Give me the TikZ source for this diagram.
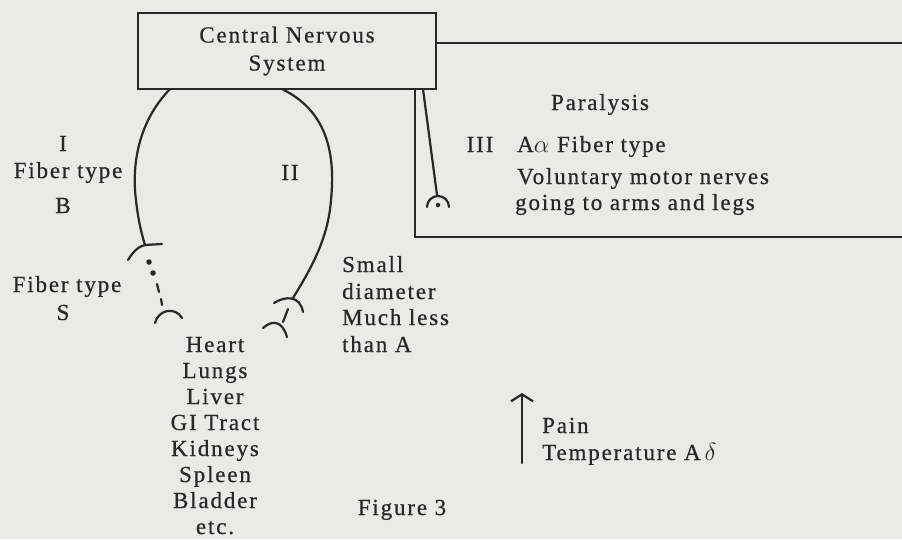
\documentclass[tikz,border=0pt]{standalone}
\usepackage{fontspec}
\setmainfont{Liberation Serif}[LetterSpace=8,FakeBold=0.6]
\usepackage{tikz}
\usetikzlibrary{arrows.meta}

\definecolor{paper}{RGB}{234,234,232}
\definecolor{ink}{RGB}{40,40,40}

\begin{document}
\begin{tikzpicture}[
  x=1pt, y=-1pt,
  lbl/.style={font=\fontsize{23}{27}\selectfont, text=ink, inner sep=0pt, anchor=base},
  lblw/.style={lbl, anchor=base west},
  nerve/.style={draw=ink, line width=2.2pt, line cap=round},
  cnsbox/.style={draw=ink, line width=2.2pt, fill=paper, minimum width=298pt,
    minimum height=76pt, inner sep=0pt, outer sep=0pt, align=center,
    font=\fontsize{23}{28}\selectfont, text=ink},
  bouton/.style={fill=ink, circle, inner sep=0pt, minimum size=5.5pt}
]
% paper and size
\fill[paper] (0,0) rectangle (902,539);
\useasboundingbox (0,0) rectangle (902,539);

% frame on the right (its corner sits behind the CNS box)
\coordinate (frTR) at (902,43);
\coordinate (frBR) at (902,237);
\draw[nerve] (frTR) -| (415,237) -- (frBR);

\node[cnsbox] (cns) at (287,51) {Central Nervous\\System};

% nerve I
\coordinate (endI) at (145,245);
\draw[nerve] ([xshift=32pt]cns.south west) .. controls (142,118) and (133,155) .. (135,190)
  .. controls (137,215) and (141,232) .. (endI);
\draw[nerve] (128,260) .. controls (134,250) and (140,246) .. (endI) -- (162,244);
\node[bouton] (dotA) at (149,262) {};
\node[bouton] (dotB) at (153,273) {};
\draw[nerve] (157,284) -- (159,292);
\draw[nerve] (161,299) -- (162,305);
\draw[nerve] (155,323) .. controls (158,310) and (175,306) .. (182,318);

% nerve II
\coordinate (endII) at (293,298);
\draw[nerve] ([xshift=144pt]cns.south west) .. controls (325,110) and (336,150) .. (331,200)
  .. controls (328,240) and (310,270) .. (endII);
\draw[nerve] (274,303) .. controls (285,296) and (300,295) .. (303,312);
\draw[nerve] (288,309) -- (283,322);
\draw[nerve] (263,328) .. controls (272,320) and (282,320) .. (287,337);

% nerve III
\coordinate (endIII) at (437,195);
\draw[nerve] ([xshift=-13pt]cns.south east) -- (endIII);
\draw[nerve] (427,207) arc[start angle=180, end angle=360, radius=11];
\node[bouton, minimum size=4.5pt] (dotC) at (438,205) {};

% labels
\node[lbl] (fibI) at (63,151) {I};
\node[lbl] (typeB) at (68,178) {Fiber type};
\node[lbl] (fibB) at (63,213) {B};
\node[lbl] (typeS) at (67,292) {Fiber type};
\node[lbl] (fibS) at (63,320) {S};
\node[lbl] (fibII) at (290,180) {II};

\node[lbl] (para) at (600,110) {Paralysis};
\node[lbl] (fibIII) at (480,152) {III};
\node[lblw] (alpha) at (517,152) {A$\alpha$\ Fiber type};
\node[lblw] (motor) at (517,184) {Voluntary motor nerves};
\node[lblw] (limbs) at (515,210) {going to arms and legs};

\node[lblw] (small) at (342,272) {Small};
\node[lblw] (diam) at (342,299) {diameter};
\node[lblw] (much) at (342,325) {Much less};
\node[lblw] (thanA) at (342,352) {than A};

\foreach \organ [count=\i] in {Heart,Lungs,Liver,GI Tract,Kidneys,Spleen,Bladder,etc.}
  \node[lbl] (organ\i) at (215,{352+26*(\i-1)}) {\organ};

\node[lbl] (fig) at (402,515) {Figure 3};

% pain arrow
\coordinate (painTail) at (522,463);
\coordinate (painHead) at (522,393);
\draw[nerve, -{Straight Barb[length=7pt,width=22pt]}] (painTail) -- (painHead);
\node[lblw] (pain) at (542,433) {Pain};
\node[lblw] (temp) at (542,460) {Temperature A\,$\delta$};
\end{tikzpicture}
\end{document}
